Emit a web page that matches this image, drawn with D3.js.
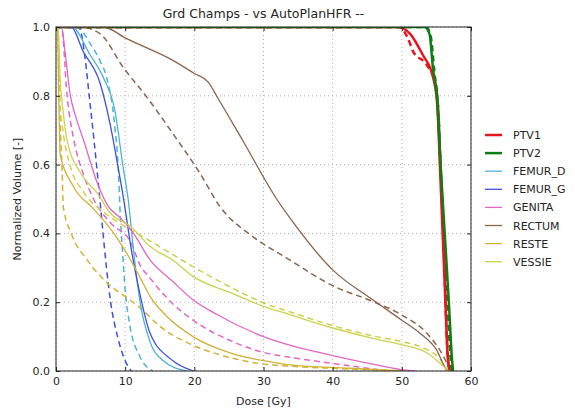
<!DOCTYPE html>
<html>
<head>
<meta charset="utf-8">
<script src="https://cdn.jsdelivr.net/npm/d3@7/dist/d3.min.js"></script>
<style>
  body { margin: 0; background: #fff; }
  text { font-family: "DejaVu Sans", sans-serif; fill: #262626; }
</style>
</head>
<body>
<div id="chart"></div>
<script>
// structures, in legend order
var names = ["PTV1", "PTV2", "FEMUR_D", "FEMUR_G", "GENITA", "RECTUM", "RESTE", "VESSIE"];
var colors = ["#e8141e", "#0f7d14", "#4fb3d4", "#4150dc", "#e266c6", "#8a6448", "#d2b236", "#cdd24e"];

var xTicks = [0, 10, 20, 30, 40, 50, 60];
var yTicks = [0.0, 0.2, 0.4, 0.6, 0.8, 1.0];

// solid curves: [dose Gy, volume]
var ptv1 = [[0,1],[49.4,1],[51.2,0.98],[53,0.92],[54.5,0.855],[55.1,0.78],[55.5,0.6],[55.9,0.4],[56.3,0.2],[56.6,0.05],[56.9,0]];
var ptv2 = [[0,1],[53.3,1],[54,0.98],[54.5,0.88],[55.1,0.79],[55.6,0.6],[56.2,0.4],[56.8,0.2],[57.2,0.05],[57.4,0]];
var femurD = [[0,1],[2.3,1],[4.9,0.92],[6.8,0.855],[8.5,0.758],[9.7,0.593],[10.45,0.497],[11.2,0.352],[12.1,0.207],[13.5,0.09],[15.5,0.03],[18.9,0]];
var femurG = [[0,1],[2.2,1],[3.9,0.93],[6.4,0.835],[7.8,0.72],[9,0.59],[9.8,0.497],[10.9,0.352],[11.9,0.246],[13.6,0.11],[16.9,0.03],[19.9,0]];
var genita = [[0,1],[0.8,1],[1.3,0.93],[2,0.81],[3,0.73],[4,0.67],[6,0.545],[7.5,0.48],[9.3,0.445],[11.2,0.4],[13.6,0.323],[16.9,0.26],[19.8,0.207],[23.2,0.165],[30,0.1],[33.8,0.075],[40,0.045],[45.8,0.02],[49.7,0.005],[52,0]];
var rectum = [[0,1],[6.8,1],[10.2,0.966],[16.9,0.903],[20,0.865],[22,0.84],[23.5,0.79],[27,0.67],[31.9,0.5],[34,0.44],[40,0.294],[45.8,0.207],[49.9,0.149],[52.6,0.11],[55,0.062],[56.5,0.004],[57,0]];
var reste = [[0,1],[0.2,1],[0.4,0.8],[0.6,0.63],[2.4,0.54],[5.5,0.47],[8,0.41],[10,0.35],[12.2,0.27],[13.6,0.217],[16,0.159],[19.8,0.1],[25.6,0.05],[30,0.03],[33.8,0.018],[42.5,0.008],[50,0]];
var vessie = [[0,1],[0.3,1],[0.6,0.85],[1,0.76],[1.6,0.671],[3.6,0.574],[6,0.516],[7.8,0.46],[10.8,0.42],[13.6,0.362],[16.9,0.322],[19.8,0.275],[25.6,0.225],[30,0.188],[33.8,0.164],[40,0.125],[45.8,0.095],[49.9,0.077],[53.6,0.053],[56,0.014],[56.8,0]];

// dashed curves (reference plan)
var ptv1Ref = [[0,1],[49.6,1],[50.9,0.966],[51.6,0.93],[53.6,0.89],[54.8,0.84],[55.3,0.75],[55.7,0.55],[56.1,0.35],[56.4,0.15],[56.7,0.03],[57,0]];
var ptv2Ref = [[0,1],[53.5,1],[54.2,0.97],[54.7,0.87],[55.2,0.78],[55.6,0.6],[56.1,0.4],[56.6,0.2],[57,0.05],[57.2,0]];
var femurDRef = [[0,1],[3,1],[5,0.95],[6.4,0.9],[7.3,0.855],[8.5,0.71],[9,0.59],[9.3,0.45],[9.6,0.352],[10,0.236],[10.7,0.13],[12.1,0.043],[14,0]];
var femurGRef = [[0,1],[3.3,1],[4.2,0.91],[4.8,0.8],[5.5,0.67],[6.1,0.55],[6.8,0.4],[7.3,0.3],[7.9,0.2],[8.9,0.1],[10,0.03],[10.9,0]];
var genitaRef = [[0,1],[0.8,1],[1.6,0.8],[2.6,0.67],[4,0.57],[5.5,0.497],[7.9,0.43],[10.8,0.375],[12.1,0.31],[13.6,0.27],[16.9,0.195],[19.8,0.148],[25.6,0.085],[30.4,0.052],[33.8,0.04],[40,0.022],[45.8,0.006],[48,0]];
var rectumRef = [[0,1],[3.5,1],[6.4,0.98],[9.7,0.883],[13.1,0.797],[16.9,0.69],[20.8,0.575],[23.7,0.478],[28.5,0.39],[33.3,0.329],[40,0.248],[45.8,0.202],[49.9,0.164],[53.6,0.11],[56,0.043],[57,0]];
var resteRef = [[0,1],[0.3,1],[0.5,0.8],[0.7,0.67],[0.9,0.574],[1.05,0.478],[2.2,0.4],[4.5,0.323],[7.4,0.256],[10.8,0.205],[12.1,0.185],[15,0.13],[19.8,0.075],[25,0.04],[30,0.02],[33.8,0.014],[40,0.008],[45,0.004],[50,0]];
var vessieRef = [[0,1],[0.2,1],[0.5,0.8],[1,0.7],[2,0.6],[4,0.52],[7,0.46],[10,0.42],[13,0.385],[16.9,0.338],[20.8,0.292],[25.6,0.24],[30.4,0.195],[33.8,0.172],[40,0.132],[45.8,0.102],[49.9,0.086],[53.6,0.062],[55.5,0.035],[56.5,0]];

var solid = [ptv1, ptv2, femurD, femurG, genita, rectum, reste, vessie];
var dashed = [ptv1Ref, ptv2Ref, femurDRef, femurGRef, genitaRef, rectumRef, resteRef, vessieRef];

var W = 575, H = 411;
var margin = {left: 56, top: 27, right: 104, bottom: 40};
var w = W - margin.left - margin.right, h = H - margin.top - margin.bottom;

var svg = d3.select("#chart").append("svg")
    .attr("width", W)
    .attr("height", H);

var x = d3.scaleLinear().domain([0, 60]).range([0, w]);
var y = d3.scaleLinear().domain([0, 1]).range([h, 0]);

var g = svg.append("g").attr("transform", "translate(" + margin.left + "," + margin.top + ")");

svg.append("defs").append("clipPath").attr("id", "clip")
  .append("rect").attr("width", w).attr("height", h);

// grid
g.selectAll(".gx").data(xTicks).enter().append("line")
    .attr("x1", d => x(d)).attr("x2", d => x(d))
    .attr("y1", 0).attr("y2", h)
    .attr("stroke", "#b0b0b0").attr("stroke-dasharray", "1,3");
g.selectAll(".gy").data(yTicks).enter().append("line")
    .attr("y1", d => y(d)).attr("y2", d => y(d))
    .attr("x1", 0).attr("x2", w)
    .attr("stroke", "#b0b0b0").attr("stroke-dasharray", "1,3");

var line = d3.line()
    .x(d => x(d[0]))
    .y(d => y(d[1]))
    .curve(d3.curveMonotoneX);

var plot = g.append("g").attr("clip-path", "url(#clip)");

// dashed first, solid on top
dashed.forEach(function(s, i) {
  plot.append("path")
      .attr("d", line(s))
      .attr("fill", "none")
      .attr("stroke", colors[i])
      .attr("stroke-width", i < 2 ? 2.5 : 1.5)
      .attr("stroke-dasharray", "6,4");
});
solid.forEach(function(s, i) {
  plot.append("path")
      .attr("d", line(s))
      .attr("fill", "none")
      .attr("stroke", colors[i])
      .attr("stroke-width", i < 2 ? 2.5 : 1.3);
});

// axes (ticks inside, on all sides)
var fmtY = d3.format(".1f");
g.append("g").attr("transform", "translate(0," + h + ")")
    .call(d3.axisBottom(x).tickValues(xTicks).tickSize(-4).tickPadding(6))
    .call(a => a.select(".domain").remove());
g.append("g")
    .call(d3.axisTop(x).tickValues(xTicks).tickSize(-4).tickFormat(""))
    .call(a => a.select(".domain").remove());
g.append("g")
    .call(d3.axisLeft(y).tickValues(yTicks).tickSize(-4).tickPadding(6).tickFormat(fmtY))
    .call(a => a.select(".domain").remove());
g.append("g").attr("transform", "translate(" + w + ",0)")
    .call(d3.axisRight(y).tickValues(yTicks).tickSize(-4).tickFormat(""))
    .call(a => a.select(".domain").remove());
g.selectAll(".tick text").style("font-size", "11px").attr("fill", "#262626");
g.selectAll(".tick line").attr("stroke", "#222");

g.append("rect")
    .attr("width", w).attr("height", h)
    .attr("fill", "none").attr("stroke", "#222").attr("stroke-width", 1);

// titles
svg.append("text")
    .attr("x", margin.left + w / 2).attr("y", 18)
    .attr("text-anchor", "middle")
    .style("font-size", "12.5px")
    .text("Grd Champs - vs AutoPlanHFR --");
svg.append("text")
    .attr("x", margin.left + w / 2).attr("y", 405)
    .attr("text-anchor", "middle")
    .style("font-size", "11px")
    .text("Dose [Gy]");
svg.append("text")
    .attr("transform", "translate(21," + (margin.top + h / 2) + ") rotate(-90)")
    .attr("text-anchor", "middle")
    .style("font-size", "11px")
    .text("Normalized Volume [-]");

// legend
var leg = svg.append("g").attr("transform", "translate(485,135)");
names.forEach(function(n, i) {
  var row = leg.append("g").attr("transform", "translate(0," + (i * 18.1) + ")");
  row.append("line")
      .attr("x1", 0).attr("x2", 17)
      .attr("stroke", colors[i])
      .attr("stroke-width", i < 2 ? 2.5 : 1.3);
  row.append("text")
      .attr("x", 28).attr("y", 4)
      .style("font-size", "11px")
      .text(n);
});
</script>
</body>
</html>
